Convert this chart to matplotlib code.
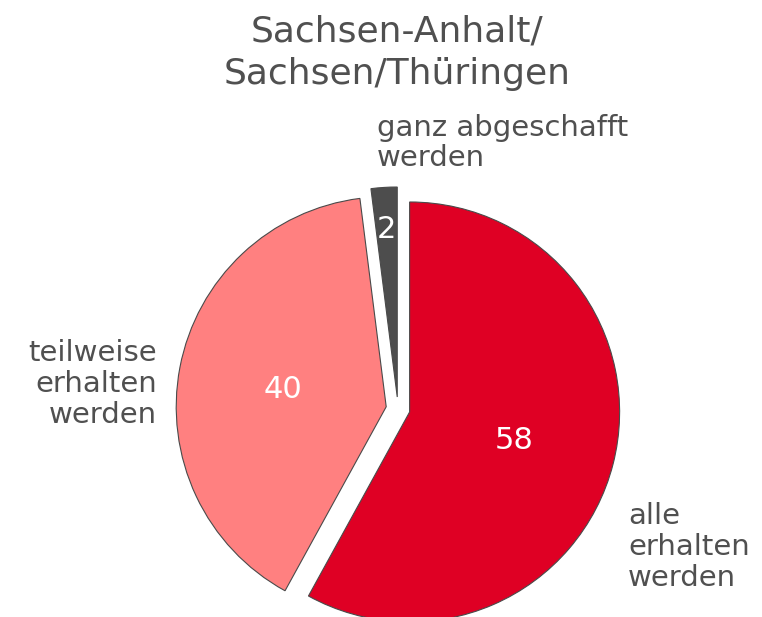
import matplotlib
matplotlib.use("Agg")
import matplotlib.pyplot as plt
import numpy as np

title = "Sachsen-Anhalt/\nSachsen/Thüringen"
categories = ["alle\nerhalten\nwerden", "teilweise\nerhalten\nwerden", "ganz abgeschafft\nwerden"]
values = [58, 40, 2]
colors = ["#DF0024", "#FF8080", "#4D4D4D"]

W, H = 762, 617
fig = plt.figure(figsize=(W / 100, H / 100), dpi=100)
ax = fig.add_axes([0, 0, 1, 1])

cx, cy = 398, H - 409
R = 210
wedges, _ = ax.pie(values, colors=colors, startangle=90, counterclock=False,
                   center=(cx, cy), radius=R, explode=[12, 12, 12],
                   wedgeprops=dict(edgecolor="#4a4a4a", linewidth=0.8))
ax.set_xlim(0, W)
ax.set_ylim(0, H)
ax.set_aspect("equal")
ax.axis("off")

txt = "#505050"
# value labels inside slices
dists = [0.515, 0.50, 0.81]
for w, v, d in zip(wedges, values, dists):
    th = np.deg2rad((w.theta1 + w.theta2) / 2)
    x0, y0 = w.center
    ax.text(x0 + d * R * np.cos(th), y0 + d * R * np.sin(th) - 2, str(v),
            ha="center", va="center", color="white", fontsize=22)

# category labels
ax.text(628, H - 547, categories[0], ha="left", va="center", color=txt,
        fontsize=21, linespacing=1.12)
ax.text(157, H - 384, categories[1], ha="right", va="center", color=txt,
        fontsize=21, linespacing=1.12)
ax.text(377, H - 143, categories[2], ha="left", va="center", color=txt,
        fontsize=21, linespacing=1.12)

ax.text(397, H - 53, title, ha="center", va="center", color=txt,
        fontsize=26, linespacing=1.3)

fig.savefig("out.png", dpi=100)
